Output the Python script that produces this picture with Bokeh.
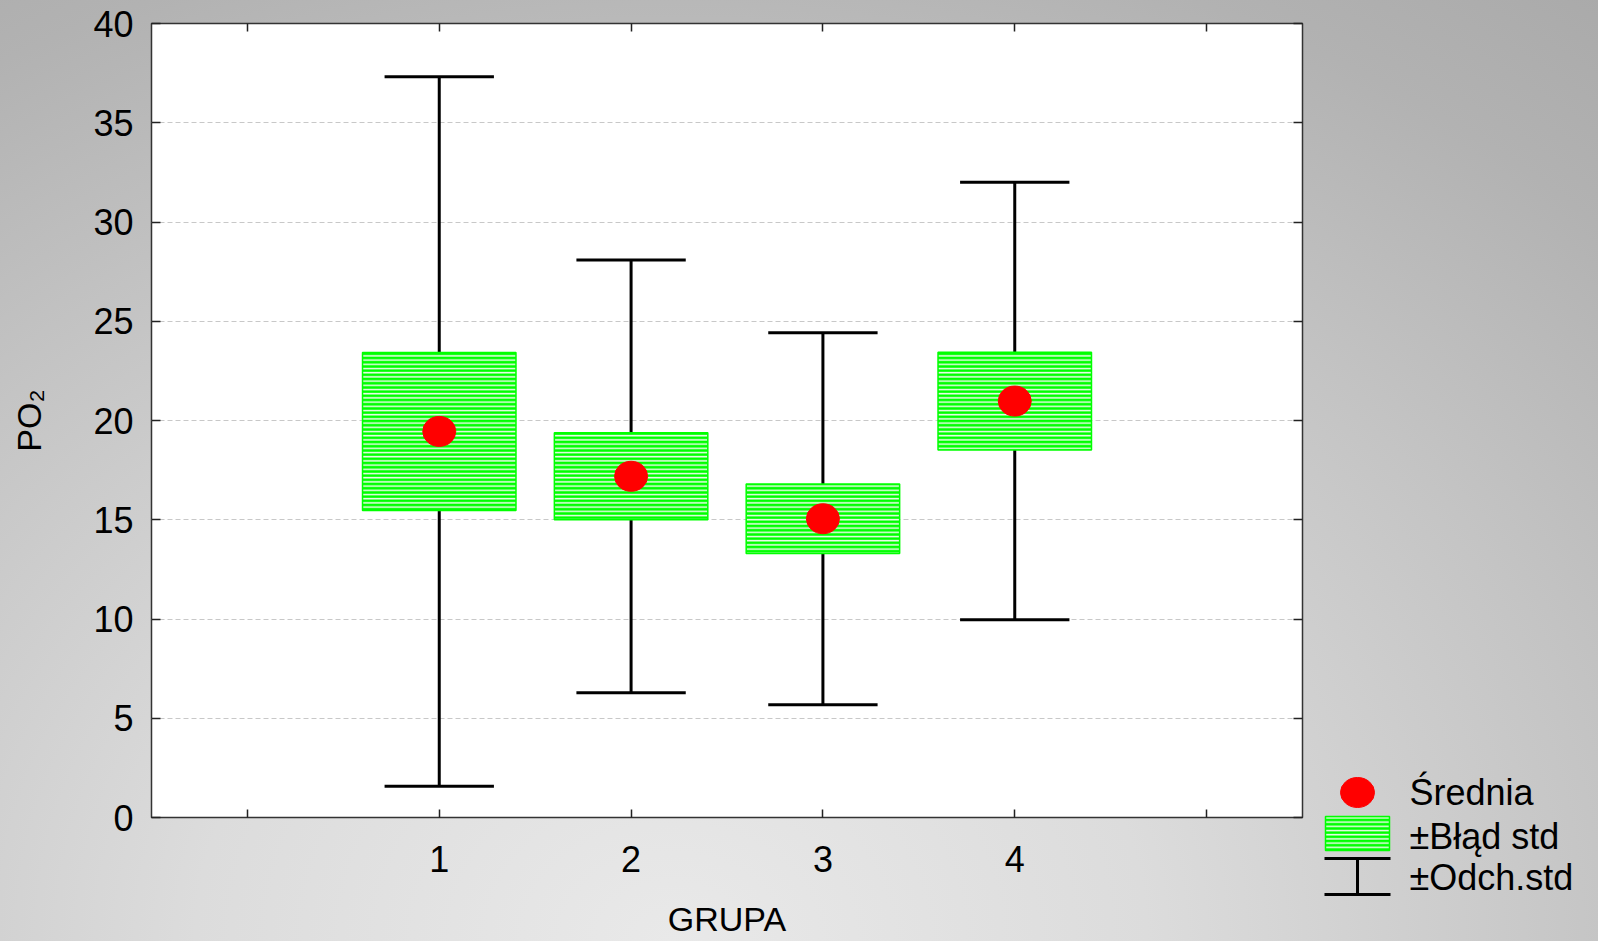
from bokeh.plotting import figure
from bokeh.layouts import row
from bokeh.models import (ColumnDataSource, FixedTicker, LinearAxis, Range1d,
                          CustomJSTickFormatter)
from bokeh.core.properties import value
from bokeh.embed import file_html
from bokeh.resources import INLINE

# ---- data ----
groups = ["1", "2", "3", "4"]
x_pos = [1, 2, 3, 4]
means = [19.45, 17.19, 15.05, 20.98]
std_err = [3.98, 2.19, 1.75, 2.46]
std_dev = [17.87, 10.90, 9.37, 11.02]
y_ticks = [0, 5, 10, 15, 20, 25, 30, 35, 40]
x_ticks = [0, 1, 2, 3, 4, 5]
legend_labels = ["Średnia", "±Błąd std", "±Odch.std"]
x_title = "GRUPA"
y_title = "PO₂"

FONT = "Liberation Sans"
CAP_HALF = 0.285
BOX_W = 0.8
GREEN = "#00ff00"
STRIPE = "#f0fbf0"

src = ColumnDataSource(dict(
    x=x_pos,
    mean=means,
    lo_se=[m - s for m, s in zip(means, std_err)],
    hi_se=[m + s for m, s in zip(means, std_err)],
    lo_sd=[m - s for m, s in zip(means, std_dev)],
    hi_sd=[m + s for m, s in zip(means, std_dev)],
    cap_l=[x - CAP_HALF for x in x_pos],
    cap_r=[x + CAP_HALF for x in x_pos],
))

p = figure(width=1310, height=941, x_range=Range1d(-0.5, 5.5), y_range=Range1d(0, 40),
           output_backend="svg", toolbar_location=None,
           min_border_left=151, min_border_right=8, min_border_top=23, min_border_bottom=124,
           border_fill_color=None, background_fill_color="white",
           outline_line_color="#333333", outline_line_width=1.5)
p.frame_align = False

# axes
xa = p.xaxis[0]
xa.ticker = FixedTicker(ticks=x_ticks)
xa.major_label_overrides = {0: "", 5: "", **{x: g for x, g in zip(x_pos, groups)}}
ya = p.yaxis[0]
ya.ticker = FixedTicker(ticks=y_ticks)
for ax in (xa, ya):
    ax.axis_line_color = None
    ax.major_tick_out = 0
    ax.minor_tick_line_color = None
    ax.major_tick_line_color = "#222222"
    ax.major_tick_line_width = 1.5
    ax.major_label_text_font = FONT
    ax.major_label_text_font_size = "36px"
    ax.major_label_text_color = "black"
    ax.axis_label_text_font = FONT
    ax.axis_label_text_font_style = "normal"
    ax.axis_label_text_color = "black"
xa.major_tick_in = 8
xa.major_label_standoff = 28
xa.axis_label = x_title
xa.axis_label_text_font_size = "34px"
xa.axis_label_standoff = 25
ya.major_tick_in = 9
ya.major_label_standoff = 18
ya.axis_label = y_title
ya.axis_label_text_font_size = "34px"
ya.axis_label_standoff = 42

blank = CustomJSTickFormatter(code="return ''")
top_ax = LinearAxis(ticker=FixedTicker(ticks=x_ticks), formatter=blank)
right_ax = LinearAxis(ticker=FixedTicker(ticks=y_ticks), formatter=blank)
for ax, tin in ((top_ax, 8), (right_ax, 9)):
    ax.axis_line_color = None
    ax.major_tick_out = 0
    ax.major_tick_in = tin
    ax.minor_tick_line_color = None
    ax.major_tick_line_color = "#222222"
    ax.major_tick_line_width = 1.5
    ax.major_label_standoff = 0
p.add_layout(top_ax, "above")
p.add_layout(right_ax, "right")

p.xgrid.visible = False
p.ygrid.ticker = FixedTicker(ticks=y_ticks)
p.ygrid.grid_line_color = "#c8c8c8"
p.ygrid.grid_line_dash = "5 3"
p.ygrid.grid_line_width = 1

# whiskers (± std dev)
p.segment(x0="x", y0="lo_sd", x1="x", y1="hi_sd", source=src, line_color="black", line_width=3)
p.segment(x0="cap_l", y0="hi_sd", x1="cap_r", y1="hi_sd", source=src, line_color="black", line_width=3)
p.segment(x0="cap_l", y0="lo_sd", x1="cap_r", y1="lo_sd", source=src, line_color="black", line_width=3)

# boxes (± std err)
p.vbar(x="x", width=BOX_W, bottom="lo_se", top="hi_se", source=src,
       fill_color=GREEN, line_color=GREEN, line_width=1.5,
       hatch_pattern="horizontal_line", hatch_color=STRIPE, hatch_scale=4.2, hatch_weight=1.5)

# means
p.ellipse(x="x", y="mean", width=33, height=30, width_units="screen", height_units="screen",
          source=src, fill_color="#ff0000", line_color="#ff0000")

# ---- legend panel ----
q = figure(width=288, height=941, x_range=Range1d(1310, 1598), y_range=Range1d(941, 0),
           x_axis_location=None, y_axis_location=None, min_border=0,
           border_fill_color=None, background_fill_color=None, outline_line_color=None,
           toolbar_location=None, output_backend="svg")
q.frame_align = False
q.grid.visible = False

q.ellipse(x=[1357], y=[792], width=34, height=30, width_units="screen", height_units="screen",
          fill_color="#ff0000", line_color="#ff0000")
q.quad(left=[1325], right=[1389], top=[816], bottom=[850],
       fill_color=GREEN, line_color=GREEN, line_width=1.5,
       hatch_pattern="horizontal_line", hatch_color=STRIPE, hatch_scale=4.2, hatch_weight=1.5)
q.segment(x0=[1324, 1324, 1357], y0=[858, 894, 858], x1=[1390, 1390, 1357], y1=[858, 894, 894],
          line_color="black", line_width=3)
q.text(x=[1409, 1409, 1409], y=[792, 836, 877], text=legend_labels,
       text_font=value(FONT), text_font_size="36px", text_baseline="middle", text_color="black")

layout = row(p, q, spacing=0, styles={
    "background": "radial-gradient(ellipse 85% 115% at 42% 100%, #e9e9e9 0%, #dcdcdc 35%, #c4c4c4 70%, #b2b2b2 95%, #a8a8a8 115%)",
})

open("out.html", "w").write(file_html(layout, INLINE))
